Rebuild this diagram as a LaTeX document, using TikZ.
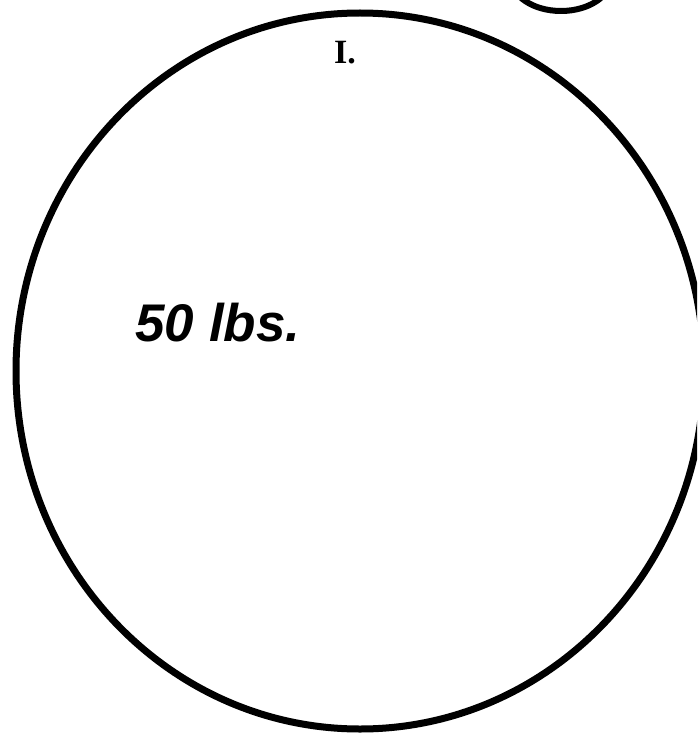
\documentclass[tikz,border=0pt]{standalone}
\usepackage{fontspec}
\newfontfamily\handfont{Liberation Sans}
\newfontfamily\typefont{Liberation Serif}
\usetikzlibrary{shapes.geometric}
\tikzset{
  outline/.style={draw=black, line width=7pt},
  typed/.style={font=\typefont\bfseries\fontsize{34}{38}\selectfont, inner sep=0pt},
  hand/.style={font=\handfont\bfseries\itshape\fontsize{53}{56}\selectfont, inner sep=0pt}
}
\begin{document}
\begin{tikzpicture}[x=1pt, y=-1pt]
  \useasboundingbox (0,0) rectangle (697,738);
  \clip (0,0) rectangle (697,738);
  \fill[white] (0,0) rectangle (697,738);
  % large circle
  \draw[outline] (360,371) ellipse [x radius=344, y radius=358];
  % small circle at top right, cut by the edge
  \draw[outline, line width=6pt] (561,-22) ellipse [x radius=50, y radius=33];
  \node[typed] (title) at (345,53) {I.};
  \node[hand] (weight) at (218,323) {50 lbs.};
\end{tikzpicture}
\end{document}
